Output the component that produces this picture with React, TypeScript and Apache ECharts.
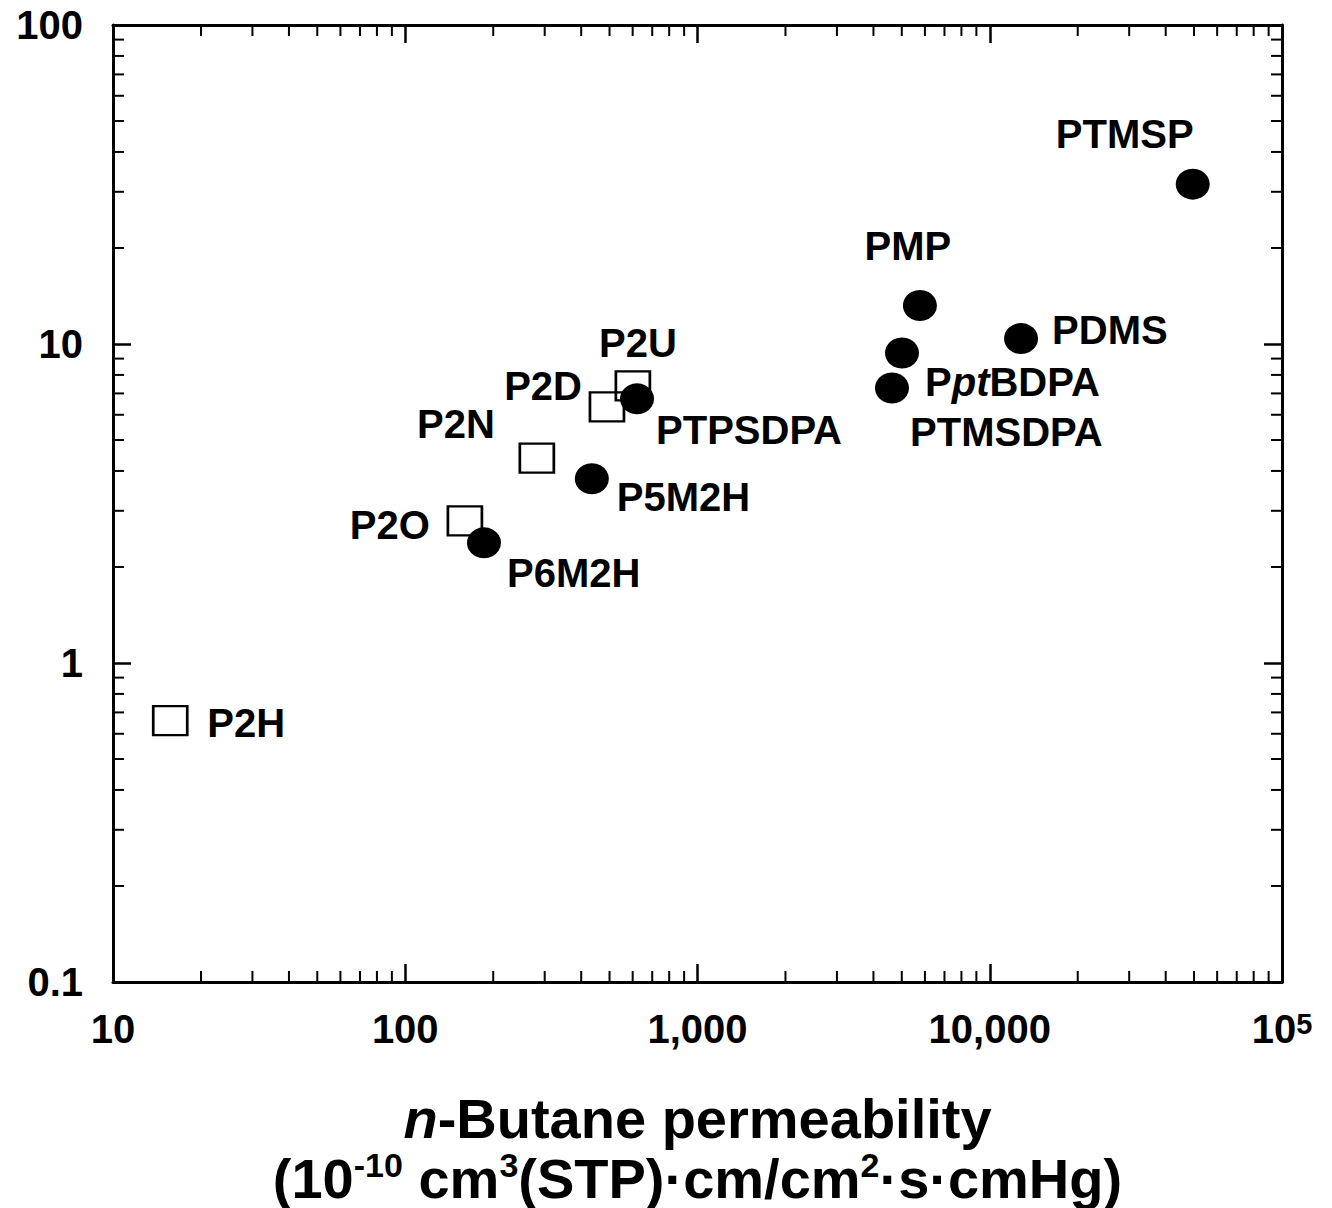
import React, { useEffect, useRef } from 'react';
import * as echarts from 'echarts';

// ---- data ----
const squareNames = ['P2H', 'P2O', 'P2N', 'P2D', 'P2U'];
const squareX = [15.7, 160, 282, 490, 601];
const squareY = [0.66, 2.79, 4.39, 6.35, 7.39];

const circleNames = ['P6M2H', 'P5M2H', 'PTPSDPA', 'PTMSDPA', 'PptBDPA', 'PMP', 'PDMS', 'PTMSP'];
const circleX = [186, 435, 621, 4630, 5010, 5770, 12800, 49500];
const circleY = [2.38, 3.78, 6.73, 7.28, 9.37, 13.2, 10.4, 31.7];

const xTickLabels = ['10', '100', '1,000', '10,000', '10^5'];
const yTickLabels = ['0.1', '1', '10', '100'];

const minorMultipliers = [2, 3, 4, 5, 6, 7, 8, 9];
const xDecades = [10, 100, 1000, 10000];
const yDecades = [0.1, 1, 10];

const X_MIN = 10;
const X_MAX = 100000;
const Y_MIN = 0.1;
const Y_MAX = 100;

// ---- layout / style (not data) ----
const FONT = '"Liberation Sans", Arial, Helvetica, sans-serif';
const labelPlacement: Record<string, [number, number, string]> = {
  P2H: [37, 2, 'left'],
  P2O: [-35, 4, 'right'],
  P2N: [-42, -34, 'right'],
  P2D: [-25, -21, 'right'],
  P2U: [5, -43, 'center'],
  P6M2H: [23, 30, 'left'],
  P5M2H: [25, 18, 'left'],
  PTPSDPA: [19, 31, 'left'],
  PTMSDPA: [18, 44, 'left'],
  PptBDPA: [23, 29, 'left'],
  PMP: [-12, -60, 'center'],
  PDMS: [31, -9, 'left'],
  PTMSP: [-68, -50, 'center'],
};

function makePoints(names: string[], xs: number[], ys: number[]) {
  return names.map((n, i) => {
    const p = labelPlacement[n];
    return {
      name: n,
      value: [xs[i], ys[i]],
      label: { offset: [p[0], p[1]], align: p[2] },
    };
  });
}

const labelBase = {
  show: true,
  position: 'inside',
  color: '#000',
  fontSize: 40,
  fontWeight: 'bold',
  fontFamily: FONT,
  verticalAlign: 'middle',
  formatter: (p: any) => (p.name === 'PptBDPA' ? 'P{it|pt}BDPA' : p.name),
  rich: {
    it: { fontStyle: 'italic', fontWeight: 'bold', fontSize: 40, fontFamily: FONT, color: '#000' },
  },
};

function xLabelFmt(v: number) {
  const e = Math.round(Math.log10(v));
  const s = xTickLabels[e - 1] ?? '';
  return s.includes('^') ? s.replace(/\^(.*)$/, '{sup|$1}') : s;
}
function yLabelFmt(v: number) {
  const e = Math.round(Math.log10(v));
  return yTickLabels[e + 1] ?? '';
}

const tickStyle = { stroke: '#000', lineWidth: 2 };

export default function App() {
  const ref = useRef<HTMLDivElement>(null);
  useEffect(() => {
    if (!ref.current) return;
    const chart = echarts.init(ref.current, undefined, { renderer: 'svg' });

    const xMinor: number[][] = [];
    xDecades.forEach((d) => minorMultipliers.forEach((m) => xMinor.push([d * m, Y_MIN])));
    const yMinor: number[][] = [];
    yDecades.forEach((d) => minorMultipliers.forEach((m) => yMinor.push([X_MIN, d * m])));

    const axisLineStyle = { color: '#000', width: 3 };
    const commonX = {
      type: 'log',
      logBase: 10,
      min: X_MIN,
      max: X_MAX,
      splitLine: { show: false },
      axisLine: { show: true, onZero: false, lineStyle: axisLineStyle },
      axisTick: { show: true, inside: true, length: 18, lineStyle: { color: '#000', width: 2.5 } },
      nameMoveOverlap: false,
    };
    const commonY = {
      type: 'log',
      logBase: 10,
      min: Y_MIN,
      max: Y_MAX,
      splitLine: { show: false },
      axisLine: { show: true, onZero: false, lineStyle: axisLineStyle },
      axisTick: { show: true, inside: true, length: 18, lineStyle: { color: '#000', width: 2.5 } },
    };

    chart.setOption({
      animation: false,
      backgroundColor: '#fff',
      grid: { left: 113, right: 50, top: 25, bottom: 226, containLabel: false, outerBoundsMode: 'none' },
      xAxis: [
        {
          ...commonX,
          position: 'bottom',
          axisLabel: {
            show: true,
            margin: 27,
            color: '#000',
            fontSize: 40,
            fontWeight: 'bold',
            fontFamily: FONT,
            showMinLabel: true,
            showMaxLabel: true,
            formatter: xLabelFmt,
            rich: {
              sup: { fontSize: 29, fontWeight: 'bold', fontFamily: FONT, color: '#000', verticalAlign: 'top', lineHeight: 30 },
            },
          },
          name:
            '{it|n}-Butane permeability\n(10{sup|-10} cm{sup|3}(STP)·cm/cm{sup|2}·s·cmHg)',
          nameLocation: 'middle',
          nameGap: 106,
          nameTextStyle: {
            color: '#000',
            fontSize: 56,
            fontWeight: 'bold',
            fontFamily: FONT,
            lineHeight: 60,
            align: 'center',
            rich: {
              it: { fontStyle: 'italic', fontWeight: 'bold', fontSize: 56, fontFamily: FONT, color: '#000', lineHeight: 60 },
              sup: { fontSize: 34, fontWeight: 'bold', fontFamily: FONT, color: '#000', verticalAlign: 'top', lineHeight: 46 },
            },
          },
        },
        {
          ...commonX,
          position: 'top',
          axisLabel: { show: false },
        },
      ],
      yAxis: [
        {
          ...commonY,
          position: 'left',
          axisLabel: {
            show: true,
            margin: 30,
            color: '#000',
            fontSize: 40,
            fontWeight: 'bold',
            fontFamily: FONT,
            showMinLabel: true,
            showMaxLabel: true,
            formatter: yLabelFmt,
          },
        },
        {
          ...commonY,
          position: 'right',
          axisLabel: { show: false },
        },
      ],
      series: [
        {
          type: 'scatter',
          name: 'P2 series',
          xAxisIndex: 0,
          yAxisIndex: 0,
          symbol: 'rect',
          symbolSize: [34, 29],
          itemStyle: { color: 'rgba(255,255,255,0)', borderColor: '#000', borderWidth: 2.5, opacity: 1 },
          label: labelBase,
          data: makePoints(squareNames, squareX, squareY),
          z: 3,
        },
        {
          type: 'scatter',
          name: 'other polymers',
          xAxisIndex: 0,
          yAxisIndex: 0,
          symbol: 'circle',
          symbolSize: [34, 31],
          itemStyle: { color: '#000', opacity: 1 },
          label: labelBase,
          data: makePoints(circleNames, circleX, circleY),
          z: 4,
        },
        {
          type: 'custom',
          name: 'x minor ticks',
          xAxisIndex: 0,
          yAxisIndex: 0,
          silent: true,
          encode: { x: 0, y: 1 },
          data: xMinor,
          renderItem: (_p: any, api: any) => {
            const v = api.value(0);
            const b = api.coord([v, Y_MIN]);
            const t = api.coord([v, Y_MAX]);
            return {
              type: 'group',
              children: [
                { type: 'line', shape: { x1: b[0], y1: b[1], x2: b[0], y2: b[1] - 11 }, style: tickStyle },
                { type: 'line', shape: { x1: t[0], y1: t[1], x2: t[0], y2: t[1] + 11 }, style: tickStyle },
              ],
            };
          },
          z: 2,
        },
        {
          type: 'custom',
          name: 'y minor ticks',
          xAxisIndex: 0,
          yAxisIndex: 0,
          silent: true,
          encode: { x: 0, y: 1 },
          data: yMinor,
          renderItem: (_p: any, api: any) => {
            const v = api.value(1);
            const l = api.coord([X_MIN, v]);
            const r = api.coord([X_MAX, v]);
            return {
              type: 'group',
              children: [
                { type: 'line', shape: { x1: l[0], y1: l[1], x2: l[0] + 11, y2: l[1] }, style: tickStyle },
                { type: 'line', shape: { x1: r[0], y1: r[1], x2: r[0] - 11, y2: r[1] }, style: tickStyle },
              ],
            };
          },
          z: 2,
        },
      ],
    } as any);

    return () => chart.dispose();
  }, []);

  return (
    <div
      ref={ref}
      style={{ position: 'fixed', left: 0, top: 0, width: 1332, height: 1208, background: '#fff' }}
    />
  );
}
